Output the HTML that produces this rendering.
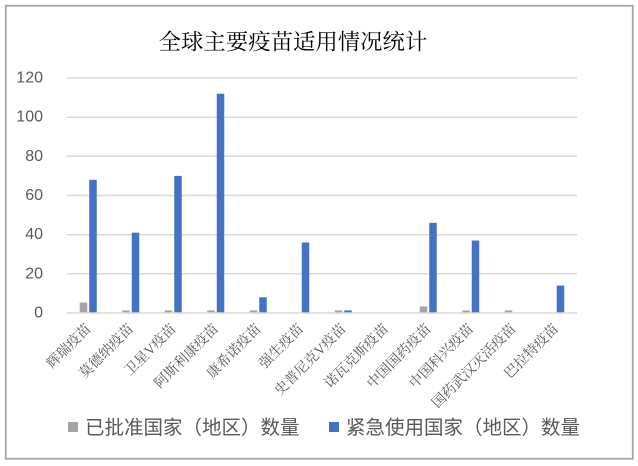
<!DOCTYPE html>
<html>
<head>
<meta charset="utf-8">
<style>
html,body{margin:0;padding:0;background:#fff;}
svg{display:block;}
.yl{font-family:"Liberation Sans",sans-serif;font-size:16px;fill:#595959;}
.xl{font-family:"Liberation Serif","Noto Serif CJK SC",serif;font-size:14px;fill:#595959;}
.lg{font-family:"Liberation Sans","Noto Sans CJK SC",sans-serif;font-size:19.5px;fill:#595959;}
.tt{font-family:"Liberation Serif","Noto Serif CJK SC",serif;font-size:22.4px;fill:#000;}
</style>
</head>
<body>
<svg width="638" height="466" viewBox="0 0 638 466" xmlns="http://www.w3.org/2000/svg">
<rect x="0" y="0" width="638" height="466" fill="#fff"/>
<rect x="5.75" y="5.75" width="627" height="453" fill="#fff" stroke="#a6a6a6" stroke-width="1.8"/>

<text class="tt" x="293" y="42" text-anchor="middle" dominant-baseline="central">全球主要疫苗适用情况统计</text>

<!-- gridlines -->
<g stroke="#d9d9d9" stroke-width="1.5">
<line x1="67" x2="577" y1="78" y2="78"/>
<line x1="67" x2="577" y1="117.2" y2="117.2"/>
<line x1="67" x2="577" y1="156.3" y2="156.3"/>
<line x1="67" x2="577" y1="195.5" y2="195.5"/>
<line x1="67" x2="577" y1="234.7" y2="234.7"/>
<line x1="67" x2="577" y1="273.8" y2="273.8"/>
<line x1="67" x2="577" y1="313" y2="313"/>
</g>

<!-- y labels -->
<text class="yl" x="43" y="78" text-anchor="end" dominant-baseline="central">120</text>
<text class="yl" x="43" y="117.2" text-anchor="end" dominant-baseline="central">100</text>
<text class="yl" x="43" y="156.3" text-anchor="end" dominant-baseline="central">80</text>
<text class="yl" x="43" y="195.5" text-anchor="end" dominant-baseline="central">60</text>
<text class="yl" x="43" y="234.7" text-anchor="end" dominant-baseline="central">40</text>
<text class="yl" x="43" y="273.8" text-anchor="end" dominant-baseline="central">20</text>
<text class="yl" x="43" y="313" text-anchor="end" dominant-baseline="central">0</text>

<!-- bars -->
<g fill="#a5a5a5">
<rect x="79.75" y="302.5" width="7.5" height="9.8"/>
<rect x="122.25" y="310.4" width="7.5" height="1.9"/>
<rect x="164.75" y="310.4" width="7.5" height="1.9"/>
<rect x="207.25" y="310.4" width="7.5" height="1.9"/>
<rect x="249.75" y="310.4" width="7.5" height="1.9"/>
<rect x="334.75" y="310.4" width="7.5" height="1.9"/>
<rect x="419.75" y="306.5" width="7.5" height="5.8"/>
<rect x="462.25" y="310.4" width="7.5" height="1.9"/>
<rect x="504.75" y="310.4" width="7.5" height="1.9"/>
</g>
<g fill="#4472c4">
<rect x="89.25" y="179.8" width="7.5" height="132.5"/>
<rect x="131.75" y="232.7" width="7.5" height="79.6"/>
<rect x="174.25" y="175.9" width="7.5" height="136.4"/>
<rect x="216.75" y="93.7" width="7.5" height="218.6"/>
<rect x="259.25" y="297.3" width="7.5" height="15"/>
<rect x="301.75" y="242.5" width="7.5" height="69.8"/>
<rect x="344.25" y="310.4" width="7.5" height="1.9"/>
<rect x="429.25" y="222.9" width="7.5" height="89.4"/>
<rect x="471.75" y="240.5" width="7.5" height="71.8"/>
<rect x="556.75" y="285.6" width="7.5" height="26.7"/>
</g>

<!-- x labels -->
<text class="xl" x="89.25" y="327" text-anchor="end" dominant-baseline="central" transform="rotate(-45 89.25 327)">辉瑞疫苗</text>
<text class="xl" x="131.75" y="327" text-anchor="end" dominant-baseline="central" transform="rotate(-45 131.75 327)">莫德纳疫苗</text>
<text class="xl" x="174.25" y="327" text-anchor="end" dominant-baseline="central" transform="rotate(-45 174.25 327)">卫星V疫苗</text>
<text class="xl" x="216.75" y="327" text-anchor="end" dominant-baseline="central" transform="rotate(-45 216.75 327)">阿斯利康疫苗</text>
<text class="xl" x="259.25" y="327" text-anchor="end" dominant-baseline="central" transform="rotate(-45 259.25 327)">康希诺疫苗</text>
<text class="xl" x="301.75" y="327" text-anchor="end" dominant-baseline="central" transform="rotate(-45 301.75 327)">强生疫苗</text>
<text class="xl" x="344.25" y="327" text-anchor="end" dominant-baseline="central" transform="rotate(-45 344.25 327)">史普尼克V疫苗</text>
<text class="xl" x="386.75" y="327" text-anchor="end" dominant-baseline="central" transform="rotate(-45 386.75 327)">诺瓦克斯疫苗</text>
<text class="xl" x="429.25" y="327" text-anchor="end" dominant-baseline="central" transform="rotate(-45 429.25 327)">中国国药疫苗</text>
<text class="xl" x="471.75" y="327" text-anchor="end" dominant-baseline="central" transform="rotate(-45 471.75 327)">中国科兴疫苗</text>
<text class="xl" x="514.25" y="327" text-anchor="end" dominant-baseline="central" transform="rotate(-45 514.25 327)">国药武汉灭活疫苗</text>
<text class="xl" x="556.75" y="327" text-anchor="end" dominant-baseline="central" transform="rotate(-45 556.75 327)">巴拉特疫苗</text>

<!-- legend -->
<rect x="68" y="422" width="10" height="10" fill="#a5a5a5"/>
<text class="lg" x="85" y="428" dominant-baseline="central">已批准国家（地区）数量</text>
<rect x="329" y="422" width="10" height="10" fill="#4472c4"/>
<text class="lg" x="346" y="428" dominant-baseline="central">紧急使用国家（地区）数量</text>
</svg>
</body>
</html>
